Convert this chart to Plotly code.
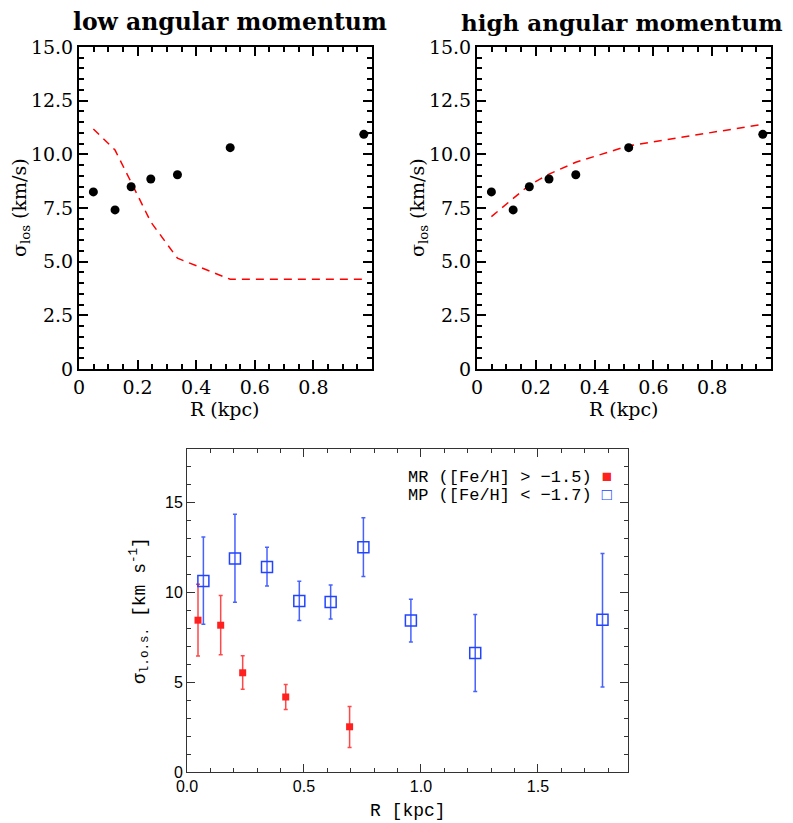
import numpy as np
import plotly.graph_objects as go

# top panels: observed dispersion profile and two models
r_obs = [0.049, 0.123, 0.178, 0.245, 0.336, 0.516, 0.972]
sig_obs = [8.25, 7.41, 8.49, 8.85, 9.05, 10.31, 10.93]
model_low = [11.18, 10.2, 8.7, 6.85, 5.16, 4.18, 4.18]
model_high = [7.1, 7.93, 8.57, 9.08, 9.63, 10.4, 11.4]

# bottom panel: metal-poor and metal-rich populations
r_mp = [0.070, 0.205, 0.342, 0.480, 0.614, 0.754, 0.957, 1.232, 1.776]
sig_mp = [10.64, 11.90, 11.42, 9.53, 9.48, 12.53, 8.44, 6.63, 8.48]
mp_top = [13.09, 14.37, 12.53, 10.63, 10.42, 14.17, 9.63, 8.78, 12.18]
mp_bot = [8.24, 9.46, 10.37, 8.44, 8.53, 10.89, 7.24, 4.48, 4.74]

r_mr = [0.047, 0.144, 0.238, 0.422, 0.695]
sig_mr = [8.46, 8.18, 5.53, 4.18, 2.52]
mr_top = [10.46, 9.83, 6.48, 4.87, 3.65]
mr_bot = [6.46, 6.53, 4.61, 3.48, 1.37]

# the page body adds an 8px margin, so place things relative to that
OFF = 8
W, H = 793 - OFF, 823 - OFF
serif = "DejaVu Serif"
mono = "Liberation Mono"


def fx(p):
    return (p - OFF) / W


def fy(p):
    return 1 - (p - OFF) / H


fig = go.Figure()

for i, model in enumerate([model_low, model_high]):
    xa = "x" if i == 0 else "x2"
    ya = "y" if i == 0 else "y2"
    fig.add_trace(go.Scatter(x=r_obs, y=model, xaxis=xa, yaxis=ya, mode="lines",
                             line=dict(color="red", width=1.5, dash="8px,6px")))
    fig.add_trace(go.Scatter(x=r_obs, y=sig_obs, xaxis=xa, yaxis=ya, mode="markers",
                             marker=dict(color="black", size=9)))

blue = "#2244ff"
red = "#ff2020"
fig.add_trace(go.Scatter(
    x=r_mr, y=sig_mr, xaxis="x3", yaxis="y3", mode="markers",
    marker=dict(symbol="square", color=red, size=7),
    error_y=dict(type="data", array=np.array(mr_top) - np.array(sig_mr),
                 arrayminus=np.array(sig_mr) - np.array(mr_bot),
                 color="rgba(255,40,40,0.85)", thickness=1.5, width=2)))
fig.add_trace(go.Scatter(
    x=r_mp, y=sig_mp, xaxis="x3", yaxis="y3", mode="markers",
    marker=dict(symbol="square-open", color=blue, size=11, line=dict(width=1.5)),
    error_y=dict(type="data", array=np.array(mp_top) - np.array(sig_mp),
                 arrayminus=np.array(sig_mp) - np.array(mp_bot),
                 color="rgba(40,70,255,0.85)", thickness=1.5, width=2)))

top_y = [fy(369), fy(47)]
tick_font = dict(family=serif, size=19, color="black")
common_top = dict(showline=True, linecolor="black", linewidth=2, mirror="ticks",
                  ticks="inside", ticklen=9, tickwidth=1.5, tickcolor="black",
                  showgrid=False, zeroline=False, tickfont=tick_font, automargin=False)

xt = dict(range=[0, 1.0], tickvals=[0, 0.2, 0.4, 0.6, 0.8],
          ticktext=["0", "0.2", "0.4", "0.6", "0.8"],
          minor=dict(ticks="inside", dtick=0.05, ticklen=5, tickcolor="black", tickwidth=1.5),
          **common_top)
yt = dict(range=[0, 15], tickvals=[0, 2.5, 5, 7.5, 10, 12.5, 15],
          ticktext=["0", "2.5", "5.0", "7.5", "10.0", "12.5", "15.0"],
          minor=dict(ticks="inside", dtick=0.5, ticklen=5, tickcolor="black", tickwidth=1.5),
          **common_top)

common_bot = dict(showline=True, linecolor="#333333", linewidth=1, mirror="ticks",
                  ticks="inside", ticklen=8, tickwidth=1, tickcolor="#333333",
                  showgrid=False, zeroline=False, automargin=False,
                  tickfont=dict(family="Liberation Sans", size=16, color="black"))

fig.update_layout(
    width=W, height=H, margin=dict(l=0, r=0, t=0, b=0, autoexpand=False),
    paper_bgcolor="white", plot_bgcolor="white", showlegend=False,
    xaxis=dict(domain=[fx(79), fx(372)], anchor="y", **xt),
    yaxis=dict(domain=top_y, anchor="x", **yt),
    xaxis2=dict(domain=[fx(477), fx(771)], anchor="y2", **xt),
    yaxis2=dict(domain=top_y, anchor="x2", **yt),
    xaxis3=dict(domain=[fx(187), fx(628)], anchor="y3", range=[0, 1.885],
                tickvals=[0, 0.5, 1.0, 1.5], ticktext=["0.0", "0.5", "1.0", "1.5"],
                minor=dict(ticks="inside", dtick=0.1, ticklen=4, tickcolor="#333333"),
                **common_bot),
    yaxis3=dict(domain=[fy(772), fy(449)], anchor="x3", range=[0, 18],
                tickvals=[0, 5, 10, 15],
                minor=dict(ticks="inside", dtick=1, ticklen=4, tickcolor="#333333"),
                **common_bot),
)


def note(text, x, y, font, size, angle=0, xanchor="center"):
    fig.add_annotation(x=fx(x), y=fy(y), xref="paper", yref="paper",
                       xanchor=xanchor, yanchor="middle", textangle=angle,
                       text=text, showarrow=False,
                       font=dict(family=font, size=size, color="black"))


note("<b>low angular momentum</b>", 230, 22, serif, 23.5)
note("<b>high angular momentum</b>", 459, 22, serif, 23, xanchor="left")
for cx, cy in [(225, 409), (624, 409)]:
    note("R (kpc)", cx, cy, serif, 19)
for cx in [20, 418]:
    note("σ<sub>los</sub> (km/s)", cx, 208, serif, 19, angle=-90)

note("R [kpc]", 408, 811, mono, 18)
note("σ<sub>l.o.s.</sub> [km s<sup>-1</sup>]", 139, 611, mono, 18, angle=-90)

legend_lines = [("MR ([Fe/H] > −1.5)", "■", red, 477),
                ("MP ([Fe/H] < −1.7)", "□", blue, 495)]
for text, sym, col, ypx in legend_lines:
    note(text + " <span style='color:" + col + "'>" + sym + "</span>", 614, ypx, mono, 17,
         xanchor="right")

fig.write_html("out.html")
